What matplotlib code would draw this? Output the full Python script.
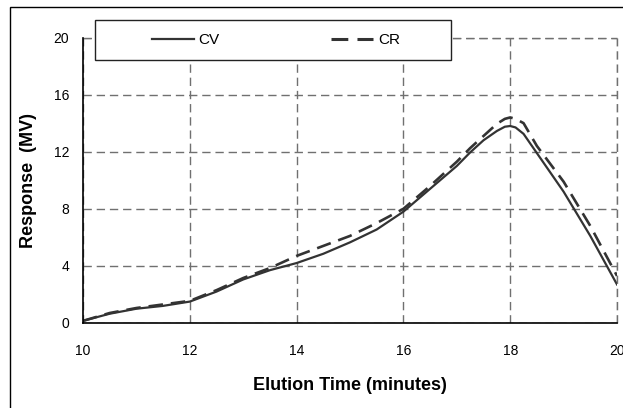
import matplotlib
matplotlib.use("Agg")
import matplotlib.pyplot as plt
from matplotlib.patches import Rectangle
from matplotlib.lines import Line2D

plt.rcParams['font.family'] = ['Liberation Sans', 'DejaVu Sans']

# Elution profiles
time_min = [10, 10.5, 11, 11.5, 12, 12.5, 13, 13.5, 14, 14.5, 15, 15.5, 16,
            16.5, 17, 17.25, 17.5, 17.75, 17.9, 18, 18.1, 18.25, 18.5, 18.75,
            19, 19.5, 20]
cv_resp = [0.15, 0.65, 1.0, 1.2, 1.5, 2.2, 3.05, 3.7, 4.2, 4.85, 5.65, 6.55, 7.8,
           9.4, 11.0, 11.95, 12.8, 13.45, 13.75, 13.8, 13.7, 13.25, 11.9, 10.55,
           9.2, 6.1, 2.7]
cr_resp = [0.15, 0.7, 1.05, 1.3, 1.55, 2.3, 3.15, 3.85, 4.7, 5.4, 6.1, 7.0, 8.0,
           9.6, 11.3, 12.25, 13.1, 13.95, 14.3, 14.4, 14.3, 14.0, 12.4, 11.15,
           9.9, 6.8, 3.3]

x_ticks = [10, 12, 14, 16, 18, 20]
y_ticks = [0, 4, 8, 12, 16, 20]
series_names = ["CV", "CR"]

W, H = 623, 408
fig = plt.figure(figsize=(W / 100, H / 100), dpi=100)
ax = fig.add_axes([83 / W, (H - 323) / H, (617 - 83) / W, (323 - 37.5) / H])

line_col = "#333333"
ax.plot(time_min, cv_resp, color=line_col, lw=1.6, solid_joinstyle="round")
ax.plot(time_min, cr_resp, color=line_col, lw=1.9, linestyle=(0, (5.5, 3)))

ax.set_xlim(10, 20)
ax.set_ylim(0, 20)
ax.set_xticks(x_ticks)
ax.set_yticks(y_ticks)
ax.tick_params(axis="both", length=0, labelsize=10, colors="black")
ax.tick_params(axis="x", pad=15)
ax.tick_params(axis="y", pad=10)

grid_style = dict(color="#707070", lw=1.0, linestyle=(0, (6, 3.5)))
ax.grid(True, **grid_style)
ax.set_axisbelow(True)
for s in ("top", "right"):
    ax.spines[s].set_visible(False)
for s in ("left", "bottom"):
    ax.spines[s].set_color("black")
    ax.spines[s].set_linewidth(1.2)

# dashed lines closing the upper and right edges
ax.axhline(20, clip_on=False, **grid_style)
ax.axvline(20, clip_on=False, **grid_style)

ax.set_xlabel("Elution Time (minutes)", fontsize=13, fontweight="bold", labelpad=14)
ax.set_ylabel("Response  (MV)", fontsize=13, fontweight="bold", labelpad=12)

# legend box
fig.patches.append(Rectangle((95 / W, 1 - 60 / H), (451 - 95) / W, 40 / H,
                             transform=fig.transFigure, facecolor="white",
                             edgecolor="#222222", lw=1.0, zorder=5))
handles = [Line2D([], [], color=line_col, lw=1.6),
           Line2D([], [], color=line_col, lw=2.2, linestyle=(0, (5.5, 3)))]
leg = fig.legend(handles, series_names, loc="center",
                 bbox_to_anchor=(276 / W, 1 - 40 / H), ncol=2, frameon=False,
                 fontsize=11, handlelength=2.75, handletextpad=0.3,
                 columnspacing=7.3)
leg.set_zorder(6)

# outer frame
fig.patches.append(Rectangle((10 / W, -0.1), 1.2, 1 - 7 / H + 0.1,
                             transform=fig.transFigure, fill=False,
                             edgecolor="black", lw=1.0, zorder=0))

fig.savefig("out.png", dpi=100)
